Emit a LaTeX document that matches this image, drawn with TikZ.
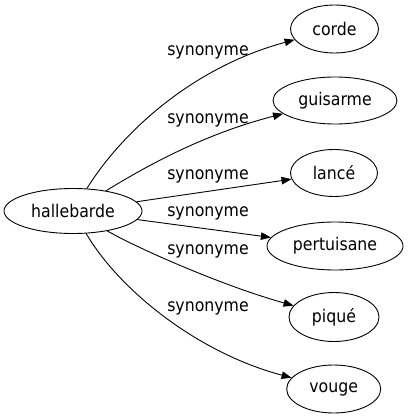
\documentclass[tikz,border=0pt]{standalone}
\usepackage{fontspec}
\setmainfont{DejaVu Sans}[FakeStretch=0.9]
\usetikzlibrary{shapes.geometric,arrows.meta}
\tikzset{
  ent/.style={draw=black, ellipse, inner sep=0pt, line width=0.9pt, font=\fontsize{17.5}{20}\selectfont},
  lbl/.style={inner sep=0pt, font=\fontsize{17.5}{20}\selectfont},
  rel/.style={draw=black, line width=0.9pt, -{Triangle[length=10pt,width=7.5pt]}}
}
\begin{document}
\begin{tikzpicture}[x=1pt,y=-1pt]
\useasboundingbox (0,0) rectangle (407,419);
\node[ent, minimum width=138pt, minimum height=45pt] (hal) at (73,211) {hallebarde};
\node[ent, minimum width=88pt, minimum height=48pt] (corde) at (334.5,29) {corde};
\node[ent, minimum width=124pt, minimum height=47pt] (guis) at (335,100.5) {guisarme};
\node[ent, minimum width=87pt, minimum height=47pt] (lance) at (334,173) {lancé};
\node[ent, minimum width=136pt, minimum height=48pt] (pert) at (335,246) {pertuisane};
\node[ent, minimum width=90pt, minimum height=49pt] (pique) at (334,317) {piqué};
\node[ent, minimum width=94pt, minimum height=48pt] (vouge) at (333.7,389) {vouge};

\node[lbl] (l1) at (208,52.5) {synonyme};
\node[lbl] (l2) at (208,120) {synonyme};
\node[lbl] (l3) at (208,176.5) {synonyme};
\node[lbl] (l4) at (208,213.5) {synonyme};
\node[lbl] (l5) at (208,251.5) {synonyme};
\node[lbl] (l6) at (208,308.5) {synonyme};

\draw[rel] (hal) .. controls (120,135) and (190,68) .. (corde);
\draw[rel] (hal) .. controls (140,170) and (200,135) .. (guis);
\draw[rel] (hal) -- (lance);
\draw[rel] (hal) -- (pert);
\draw[rel] (hal) .. controls (135,247) and (220,285) .. (pique);
\draw[rel] (hal) .. controls (118,288) and (195,352) .. (vouge);
\end{tikzpicture}
\end{document}
